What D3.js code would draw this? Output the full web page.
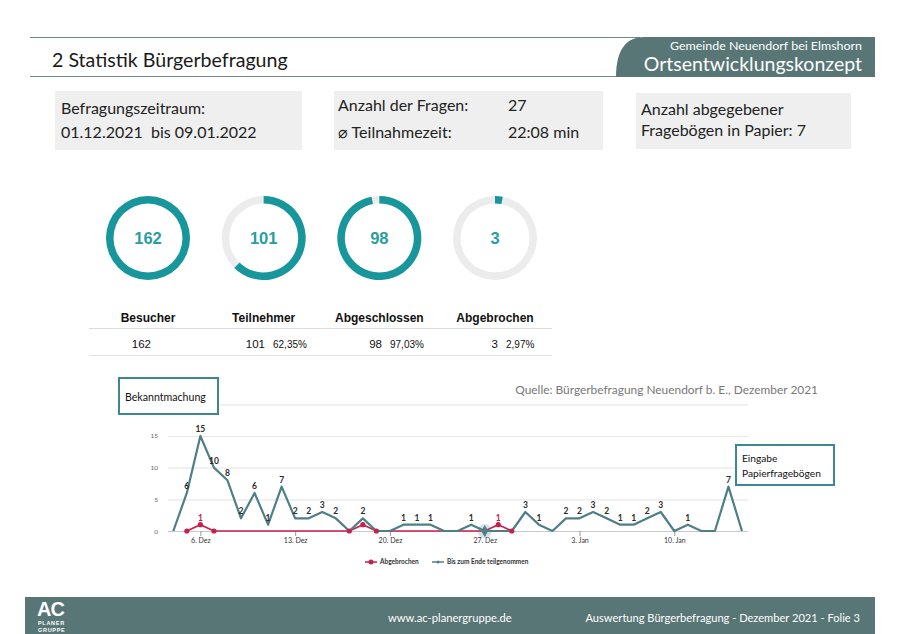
<!DOCTYPE html>
<html><head><meta charset="utf-8">
<script src="https://cdn.jsdelivr.net/npm/d3@7"></script>
<style>
html,body{margin:0;padding:0;background:#fff;}
svg{display:block;}
</style></head>
<body>
<svg id="c" width="900" height="634"></svg>
<script>
// ---------- DATA ----------
const startDay = "2021-12-04";
const teilgenommen = [0,6,15,10,8,2,6,1,7,2,2,3,2,0,2,0,0,1,1,1,0,0,1,0,0,0,3,1,0,2,2,3,2,1,1,2,3,0,1,0,0,7,0];
const abgebrochenStart = "2021-12-05";
const abgebrochen = [0,1,0,0,0,0,0,0,0,0,0,0,0,1,0,0,0,0,0,0,0,0,0,1,0];
const abgebrochenMarkers = ["2021-12-05","2021-12-06","2021-12-07","2021-12-17","2021-12-18","2021-12-19","2021-12-27","2021-12-28","2021-12-29"];
const xTickDates = ["2021-12-06","2021-12-13","2021-12-20","2021-12-27","2022-01-03","2022-01-10"];
const xTickLabels = ["6. Dez","13. Dez","20. Dez","27. Dez","3. Jan","10. Jan"];
const yTicks = [0,5,10,15,20];
const yTickLabels = ["0","5","10","15",""];
const donutLabels = ["Besucher","Teilnehmer","Abgeschlossen","Abgebrochen"];
const donutValues = [162,101,98,3];
const donutShare = [1,0.6235,0.9703,0.0297];
const donutPctText = ["","62,35%","97,03%","2,97%"];
const legendLabels = ["Abgebrochen","Bis zum Ende teilgenommen"];

const TEAL_LINE = "#4f7f86", RED = "#c6204c", RING = "#17979c", RINGBG = "#ececec", SLATE = "#587676";
const svg = d3.select("#c");
const calib = "Lato, 'Open Sans', sans-serif";
const arial = "'Liberation Sans', Arial, sans-serif";

// ---------- HEADER ----------
svg.append("line").attr("x1",30).attr("x2",640).attr("y1",37.5).attr("y2",37.5).attr("stroke","#6f8888").attr("stroke-width",1);
svg.append("line").attr("x1",30).attr("x2",620).attr("y1",76.5).attr("y2",76.5).attr("stroke","#6f8888").attr("stroke-width",1);
svg.append("path").attr("d","M875,37 L644,37 C626,37 616,50 616,77 L875,77 Z").attr("fill",SLATE);
svg.append("text").attr("x",52).attr("y",67).attr("font-family",calib).attr("font-size",19.6).attr("fill","#1a1a1a").text("2 Statistik Bürgerbefragung");
svg.append("text").attr("x",862).attr("y",50).attr("text-anchor","end").attr("font-family",calib).attr("font-size",12).attr("fill","#fff").attr("textLength",192).attr("lengthAdjust","spacingAndGlyphs").text("Gemeinde Neuendorf bei Elmshorn");
svg.append("text").attr("x",862).attr("y",71).attr("text-anchor","end").attr("font-family",calib).attr("font-size",19.5).attr("fill","#fff").text("Ortsentwicklungskonzept");

// ---------- INFO BOXES ----------
const boxes = [
  {x:55,y:91,w:247,h:59},
  {x:334,y:91,w:269,h:59},
  {x:636,y:93,w:215,h:56}
];
svg.selectAll("rect.info").data(boxes).join("rect").attr("class","info")
  .attr("x",d=>d.x).attr("y",d=>d.y).attr("width",d=>d.w).attr("height",d=>d.h).attr("fill","#efefef");
const infoTexts = [
  {x:61,y:114,t:"Befragungszeitraum:"},
  {x:61,y:138,t:"01.12.2021  bis 09.01.2022"},
  {x:338,y:111,t:"Anzahl der Fragen:"},
  {x:508,y:111,t:"27"},
  {x:338,y:138,t:"⌀ Teilnahmezeit:"},
  {x:508,y:138,t:"22:08 min"},
  {x:641,y:115,t:"Anzahl abgegebener"},
  {x:641,y:136,t:"Fragebögen in Papier: 7"}
];
svg.selectAll("text.info").data(infoTexts).join("text").attr("class","info")
  .attr("x",d=>d.x).attr("y",d=>d.y).attr("font-family",calib).attr("font-size",16).attr("fill","#222")
  .style("white-space","pre").text(d=>d.t);

// ---------- DONUTS ----------
const donutX = d3.scalePoint().domain(donutLabels).range([148,495]);
const arcBg = d3.arc().innerRadius(34.5).outerRadius(42).startAngle(0).endAngle(2*Math.PI);
const arcFg = d3.arc().innerRadius(34.5).outerRadius(42).startAngle(0);
donutLabels.forEach((lab,i)=>{
  const g = svg.append("g").attr("transform",`translate(${donutX(lab)},238)`);
  g.append("path").attr("d",arcBg()).attr("fill",RINGBG);
  g.append("path").attr("d",arcFg({endAngle:2*Math.PI*donutShare[i]})).attr("fill",RING);
  g.append("text").attr("y",6).attr("text-anchor","middle").attr("font-family",arial).attr("font-weight","bold")
    .attr("font-size",16.5).attr("fill","#2a9da2").text(donutValues[i]);
});

// ---------- TABLE ----------
svg.append("line").attr("x1",89).attr("x2",552).attr("y1",328.5).attr("y2",328.5).attr("stroke","#dcdcdc").attr("stroke-width",1.2);
svg.append("line").attr("x1",89).attr("x2",552).attr("y1",355.5).attr("y2",355.5).attr("stroke","#e2e2e2").attr("stroke-width",1.2);
donutLabels.forEach((lab,i)=>{
  svg.append("text").attr("x",donutX(lab)).attr("y",322).attr("text-anchor","middle").attr("font-family",arial)
    .attr("font-weight","bold").attr("font-size",12).attr("fill","#111").text(lab);
});
const valRight = [151,265,382,498];
donutValues.forEach((v,i)=>{
  svg.append("text").attr("x",valRight[i]).attr("y",348).attr("text-anchor","end").attr("font-family",arial)
    .attr("font-size",11.5).attr("fill","#111").text(v);
  if(donutPctText[i]) svg.append("text").attr("x",valRight[i]+8).attr("y",348).attr("font-family",arial)
    .attr("font-size",10).attr("fill","#111").text(donutPctText[i]);
});

// ---------- LINE CHART ----------
const parse = d3.utcParse("%Y-%m-%d");
const d0 = parse(startDay);
const tealData = teilgenommen.map((v,i)=>({date:d3.utcDay.offset(d0,i),v}));
const r0 = parse(abgebrochenStart);
const redData = abgebrochen.map((v,i)=>({date:d3.utcDay.offset(r0,i),v}));
const x = d3.scaleUtc().domain([tealData[0].date, tealData[tealData.length-1].date]).range([173.3,742]);
const y = d3.scaleLinear().domain([0,20]).range([531,404.3]);

// gridlines
svg.append("g").selectAll("line").data(yTicks.filter(t=>t>0)).join("line")
  .attr("x1",168).attr("x2",748).attr("y1",d=>y(d)+0.5).attr("y2",d=>y(d)+0.5).attr("stroke","#e8e8e8").attr("stroke-width",1.2);
// y labels
svg.append("g").selectAll("text").data(yTicks).join("text")
  .attr("x",158).attr("y",d=>y(d)+2.5).attr("text-anchor","end").attr("font-family",calib).attr("font-size",6.5).attr("fill","#666")
  .text((d,i)=>yTickLabels[i]);
// x axis
const xAxis = d3.axisBottom(x).tickValues(xTickDates.map(parse)).tickSize(5).tickFormat((d,i)=>xTickLabels[i]);
const gx = svg.append("g").attr("transform","translate(0,531)").call(xAxis);
gx.select(".domain").attr("d","M168,0.5H748").attr("stroke","#c8c8c8");
gx.selectAll(".tick line").attr("stroke","#999");
gx.selectAll(".tick text").attr("font-family",calib).attr("font-size",7).attr("fill","#333").attr("dy","0.5em");

const line = d3.line().x(d=>x(d.date)).y(d=>y(d.v));
svg.append("path").datum(redData).attr("d",line).attr("fill","none").attr("stroke",RED).attr("stroke-width",1.6);
svg.append("path").datum(tealData).attr("d",line).attr("fill","none").attr("stroke",TEAL_LINE).attr("stroke-width",2.2).attr("stroke-linejoin","round");

// red markers
const redMarkerDates = abgebrochenMarkers.map(s=>+parse(s));
svg.append("g").selectAll("circle").data(redData.filter(d=>redMarkerDates.includes(+d.date))).join("circle")
  .attr("cx",d=>x(d.date)).attr("cy",d=>y(d.v)).attr("r",2.6).attr("fill",RED);

// hover marker on 27 Dez
const hov = tealData.find(d=>+d.date===+parse("2021-12-27"));
svg.append("circle").attr("cx",x(hov.date)).attr("cy",y(hov.v)).attr("r",7).attr("fill",TEAL_LINE).attr("opacity",0.25);
svg.append("path").attr("d",d3.symbol(d3.symbolDiamond,40)()).attr("transform",`translate(${x(hov.date)},${y(hov.v)})`).attr("fill",TEAL_LINE);

// data labels (a red label colliding with a nearby teal label is hidden, as in the source chart)
const tealByDate = new Map(tealData.map(d=>[+d.date,d.v]));
svg.append("g").selectAll("text").data(redData.filter(d=>{
    const t = tealByDate.get(+d.date) || 0;
    return d.v>0 && !(t>0 && Math.abs(y(t)-y(d.v))<10);
  })).join("text")
  .attr("x",d=>x(d.date)).attr("y",d=>y(d.v)-4).attr("text-anchor","middle").attr("font-family",calib)
  .attr("font-weight","bold").attr("font-size",8.5).attr("fill",RED).text(d=>d.v);
svg.append("g").selectAll("text").data(tealData.filter(d=>d.v>0)).join("text")
  .attr("x",d=>x(d.date)).attr("y",d=>y(d.v)-4).attr("text-anchor","middle").attr("font-family",calib)
  .attr("font-weight","bold").attr("font-size",8.5).attr("fill","#2b2b2b").text(d=>d.v);

// legend
const lg = svg.append("g").attr("transform","translate(0,562)");
lg.append("line").attr("x1",365).attr("x2",377).attr("y1",0).attr("y2",0).attr("stroke",RED).attr("stroke-width",1.5);
lg.append("circle").attr("cx",371).attr("cy",0).attr("r",2.5).attr("fill",RED);
lg.append("text").attr("x",380).attr("y",2.3).attr("font-family",calib).attr("font-weight","bold").attr("font-size",6.5).attr("fill","#333").text(legendLabels[0]);
lg.append("line").attr("x1",432).attr("x2",444).attr("y1",0).attr("y2",0).attr("stroke",TEAL_LINE).attr("stroke-width",1.5);
lg.append("circle").attr("cx",438).attr("cy",0).attr("r",1.5).attr("fill",TEAL_LINE);
lg.append("text").attr("x",447).attr("y",2.3).attr("font-family",calib).attr("font-weight","bold").attr("font-size",6.5).attr("fill","#333").text(legendLabels[1]);

// source text
svg.append("text").attr("x",818).attr("y",394).attr("text-anchor","end").attr("font-family",calib).attr("font-size",11.9).attr("fill","#777")
  .text("Quelle: Bürgerbefragung Neuendorf b. E., Dezember 2021");

// annotation boxes
svg.append("rect").attr("x",119).attr("y",378).attr("width",99).attr("height",36).attr("fill","#fff").attr("stroke","#3d8790").attr("stroke-width",2);
svg.append("text").attr("x",125).attr("y",401).attr("font-family",calib).attr("font-size",10.6).attr("fill","#111").text("Bekanntmachung");
svg.append("rect").attr("x",736).attr("y",445).attr("width",98).attr("height",40).attr("fill","#fff").attr("stroke","#3d8790").attr("stroke-width",2);
svg.append("text").attr("x",742).attr("y",462).attr("font-family",calib).attr("font-size",10.2).attr("fill","#111").text("Eingabe");
svg.append("text").attr("x",742).attr("y",477).attr("font-family",calib).attr("font-size",10.2).attr("fill","#111").text("Papierfragebögen");

// ---------- FOOTER ----------
svg.append("rect").attr("x",25).attr("y",597).attr("width",850).attr("height",37).attr("fill",SLATE);
svg.append("text").attr("x",37).attr("y",616).attr("font-family",arial).attr("font-weight","bold").attr("font-size",20).attr("fill","#fff").attr("letter-spacing",-1).text("AC");
svg.append("text").attr("x",38).attr("y",624.5).attr("font-family",arial).attr("font-weight","bold").attr("font-size",5.5).attr("fill","#fff").attr("letter-spacing",0.7).text("PLANER");
svg.append("text").attr("x",38).attr("y",631.5).attr("font-family",arial).attr("font-weight","bold").attr("font-size",5.5).attr("fill","#fff").attr("letter-spacing",0.7).text("GRUPPE");
svg.append("text").attr("x",388).attr("y",622).attr("font-family",calib).attr("font-size",11.2).attr("fill","#fff").text("www.ac-planergruppe.de");
svg.append("text").attr("x",860).attr("y",622).attr("text-anchor","end").attr("font-family",calib).attr("font-size",11.1).attr("fill","#fff").text("Auswertung Bürgerbefragung - Dezember 2021 - Folie 3");
</script>
</body></html>
